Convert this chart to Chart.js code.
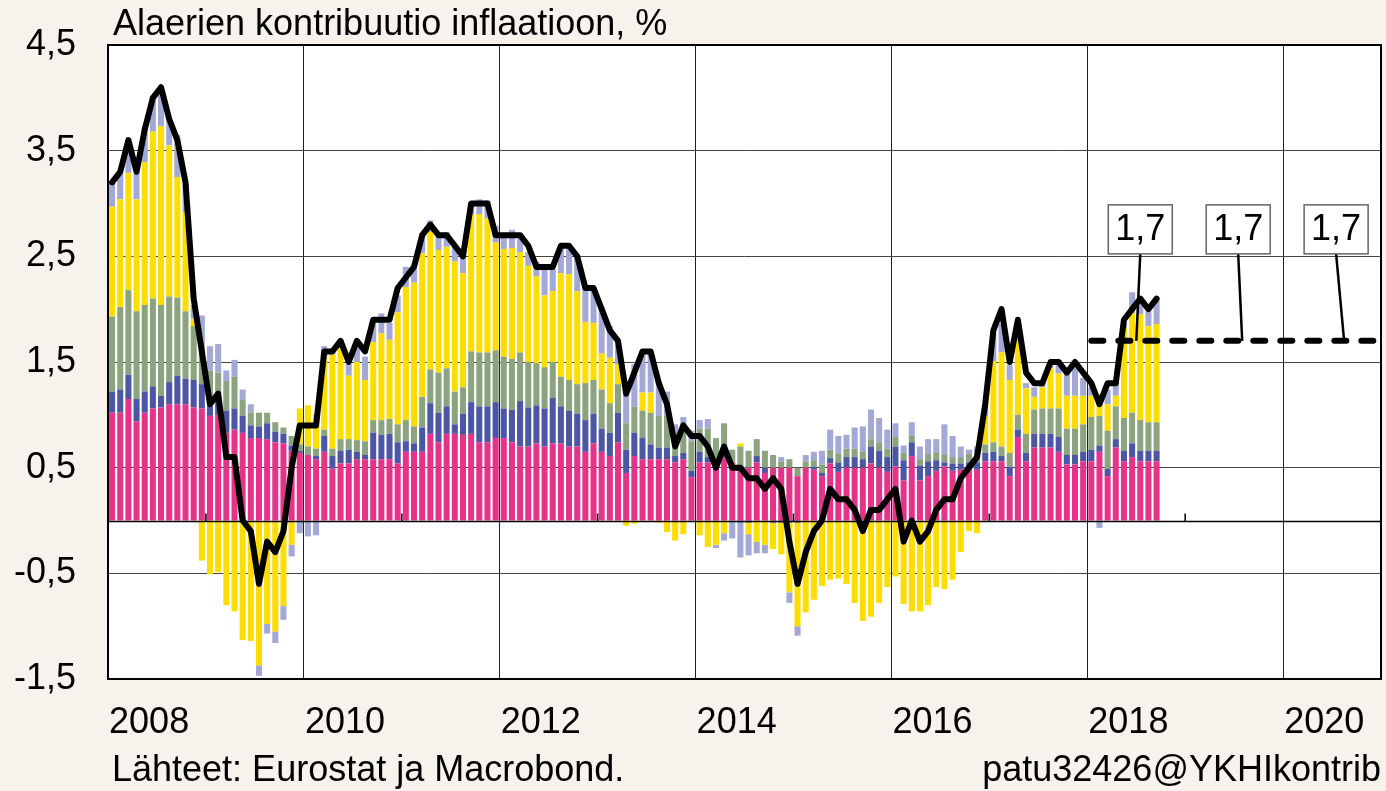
<!DOCTYPE html>
<html>
<head>
<meta charset="utf-8">
<script src="https://cdn.jsdelivr.net/npm/chart.js@4.4.0/dist/chart.umd.min.js"></script>
<style>
  html, body { margin: 0; padding: 0; background: #F7F3EC; }
  #wrap { width: 1386px; height: 791px; }
</style>
</head>
<body>
<div id="wrap"><canvas id="chart" width="1386" height="791"></canvas></div>
<script>
// === DATA (kuukausittain, tammikuu 2008 - syyskuu 2018) ===
const firstYear = 2008;
const lastYear = 2020;
const tickYears = ['2008', '2010', '2012', '2014', '2016', '2018', '2020'];

// Palvelut
const services = [
  1.02, 1.02, 1.15, 0.94, 1.02, 1.06, 1.07, 1.10, 1.10, 1.10, 1.07, 1.06,
  0.99, 1.00, 0.83, 0.86, 0.83, 0.78, 0.78, 0.77, 0.74, 0.73, 0.66, 0.64,
  0.62, 0.58, 0.65, 0.49, 0.54, 0.54, 0.58, 0.58, 0.58, 0.58, 0.58, 0.54,
  0.65, 0.65, 0.65, 0.82, 0.74, 0.82, 0.82, 0.81, 0.82, 0.74, 0.74, 0.78,
  0.78, 0.74, 0.70, 0.70, 0.73, 0.70, 0.73, 0.73, 0.70, 0.70, 0.65, 0.73,
  0.65, 0.61, 0.74, 0.45, 0.61, 0.58, 0.58, 0.58, 0.58, 0.55, 0.58, 0.41,
  0.55, 0.55, 0.55, 0.59, 0.55, 0.50, 0.50, 0.55, 0.45, 0.50, 0.50, 0.50,
  0.42, 0.50, 0.48, 0.42, 0.54, 0.46, 0.50, 0.50, 0.50, 0.54, 0.50, 0.46,
  0.51, 0.38, 0.61, 0.38, 0.42, 0.47, 0.51, 0.47, 0.48, 0.48, 0.48, 0.56,
  0.56, 0.56, 0.42, 0.79, 0.56, 0.69, 0.69, 0.69, 0.65, 0.53, 0.53, 0.56,
  0.56, 0.65, 0.42, 0.69, 0.56, 0.60, 0.56, 0.56, 0.56
];
// Teollisuustuotteet (ei energia)
const goods = [
  0.20, 0.22, 0.23, 0.21, 0.20, 0.21, 0.11, 0.21, 0.27, 0.24, 0.26, 0.23,
  0.09, 0.15, 0.21, 0.20, 0.16, 0.12, 0.11, 0.15, 0.10, 0.09, 0.05, 0.02,
  0.00, 0.03, 0.15, 0.12, 0.12, 0.13, 0.07, 0.04, 0.25, 0.23, 0.24, 0.20,
  0.10, 0.08, 0.23, 0.29, 0.28, 0.26, 0.09, 0.20, 0.30, 0.34, 0.34, 0.34,
  0.28, 0.31, 0.43, 0.37, 0.36, 0.36, 0.43, 0.35, 0.34, 0.31, 0.30, 0.28,
  0.22, 0.22, 0.28, 0.22, 0.22, 0.20, 0.14, 0.11, 0.11, 0.06, 0.06, 0.06,
  0.10, 0.05, 0.03, 0.08, 0.00, -0.02, -0.02, 0.06, 0.05, -0.02, -0.02, -0.02,
  -0.02, 0.00, 0.03, 0.03, 0.05, 0.09, 0.10, 0.10, 0.08, 0.16, 0.16, 0.14,
  0.19, 0.19, 0.13, 0.14, 0.14, 0.10, 0.04, 0.07, 0.06, 0.07, 0.07, 0.08,
  0.09, 0.05, 0.09, 0.07, 0.08, 0.13, 0.13, 0.13, 0.14, 0.09, 0.09, 0.09,
  0.11, 0.06, 0.07, 0.08, 0.10, 0.13, 0.10, 0.10, 0.10
];
// Prosessoidut elintarvikkeet
const processedFood = [
  0.71, 0.78, 0.80, 0.83, 0.82, 0.83, 0.86, 0.81, 0.74, 0.64, 0.51, 0.35,
  0.34, 0.25, 0.28, 0.30, 0.15, 0.12, 0.13, 0.10, 0.09, 0.06, 0.09, 0.06,
  0.08, 0.07, 0.06, 0.07, 0.11, 0.10, 0.11, 0.13, 0.12, 0.14, 0.14, 0.17,
  0.20, 0.16, 0.29, 0.32, 0.38, 0.36, 0.31, 0.25, 0.48, 0.51, 0.51, 0.49,
  0.49, 0.48, 0.46, 0.43, 0.40, 0.39, 0.34, 0.28, 0.29, 0.28, 0.35, 0.32,
  0.37, 0.28, 0.27, 0.25, 0.25, 0.26, 0.30, 0.30, 0.30, 0.22, 0.26, 0.28,
  0.22, 0.27, 0.20, 0.25, 0.12, 0.20, 0.16, 0.16, 0.16, 0.12, 0.06, 0.08,
  0.08, 0.06, 0.06, 0.08, 0.08, 0.08, 0.08, 0.08, 0.07, 0.07, 0.08, 0.08,
  0.09, 0.07, 0.06, 0.06, 0.07, 0.07, 0.07, 0.06, 0.06, 0.08, 0.08, 0.08,
  0.09, 0.09, 0.13, 0.14, 0.18, 0.23, 0.24, 0.24, 0.27, 0.25, 0.25, 0.26,
  0.31, 0.28, 0.36, 0.31, 0.31, 0.29, 0.29, 0.27, 0.27
];
// Energia
const energy = [
  1.04, 1.02, 1.11, 1.06, 1.35, 1.58, 1.69, 1.43, 1.14, 0.94, 0.07, -0.38,
  -0.51, -0.49, -0.80, -0.86, -1.13, -1.14, -1.37, -0.98, -1.05, -0.81, -0.23, 0.34,
  0.39, 0.33, 0.70, 0.89, 0.88, 0.60, 0.74, 0.58, 0.74, 0.82, 0.75, 1.06,
  1.26, 1.36, 1.36, 1.30, 1.16, 1.15, 1.23, 1.08, 1.30, 1.31, 1.27, 1.02,
  1.02, 1.05, 0.95, 0.91, 0.82, 0.68, 0.67, 0.98, 1.00, 0.88, 0.58, 0.54,
  0.34, 0.43, 0.19, -0.05, -0.03, 0.17, 0.19, -0.02, -0.11, -0.19, -0.13, 0.00,
  -0.14, -0.25, -0.23, -0.12, 0.00, 0.03, -0.11, -0.20, -0.23, -0.25, -0.30, -0.66,
  -0.98, -0.87, -0.75, -0.62, -0.56, -0.55, -0.60, -0.78, -0.95, -0.91, -0.78, -0.63,
  -0.53, -0.79, -0.86, -0.86, -0.80, -0.63, -0.65, -0.56, -0.30, -0.10, -0.12, 0.27,
  0.77, 0.89, 0.69, 0.72, 0.43, 0.12, 0.20, 0.38, 0.33, 0.31, 0.31, 0.27,
  0.20, 0.20, 0.25, 0.10, 0.85, 0.94, 1.00, 0.91, 0.93
];
// Prosessoimattomat elintarvikkeet
const freshFood = [
  0.23, 0.25, 0.28, 0.26, 0.33, 0.34, 0.31, 0.25, 0.40, 0.27, 0.13, 0.30,
  0.23, 0.27, 0.10, 0.16, 0.10, 0.08, -0.10, -0.09, -0.11, -0.13, -0.11, -0.12,
  -0.15, -0.14, 0.09, 0.06, 0.05, 0.11, 0.13, 0.22, 0.21, 0.19, 0.16, 0.16,
  0.19, 0.13, 0.19, 0.11, 0.16, 0.14, 0.16, 0.16, 0.08, 0.14, 0.17, 0.16,
  0.13, 0.17, 0.13, 0.13, 0.14, 0.25, 0.21, 0.24, 0.25, 0.33, 0.34, 0.34,
  0.44, 0.30, 0.22, 0.28, 0.40, 0.38, 0.39, 0.33, 0.23, 0.08, 0.08, 0.10,
  0.08, 0.09, -0.03, -0.07, -0.17, -0.33, -0.20, -0.11, -0.08, 0.00, 0.04, -0.10,
  -0.09, 0.06, 0.08, 0.13, 0.19, 0.17, 0.13, 0.20, 0.24, 0.28, 0.23, 0.18,
  0.13, 0.07, 0.13, 0.12, 0.14, 0.13, 0.29, 0.20, 0.10, 0.04, 0.07, 0.10,
  0.25, 0.27, 0.14, 0.15, 0.05, 0.09, 0.04, 0.03, 0.13, 0.24, 0.30, 0.17,
  0.08, -0.07, 0.14, 0.14, 0.05, 0.20, 0.13, 0.14, 0.25
];
// YKHI-inflaatio
const hicp = [
  3.2, 3.3, 3.6, 3.3, 3.7, 4.0, 4.1, 3.8, 3.6, 3.2, 2.1, 1.6,
  1.1, 1.2, 0.6, 0.6, 0.0, -0.1, -0.6, -0.2, -0.3, -0.1, 0.5, 0.9,
  0.9, 0.9, 1.6, 1.6, 1.7, 1.5, 1.7, 1.6, 1.9, 1.9, 1.9, 2.2,
  2.3, 2.4, 2.7, 2.8, 2.7, 2.7, 2.6, 2.5, 3.0, 3.0, 3.0, 2.7,
  2.7, 2.7, 2.7, 2.6, 2.4, 2.4, 2.4, 2.6, 2.6, 2.5, 2.2, 2.2,
  2.0, 1.8, 1.7, 1.2, 1.4, 1.6, 1.6, 1.3, 1.1, 0.7, 0.9, 0.8,
  0.8, 0.7, 0.5, 0.7, 0.5, 0.5, 0.4, 0.4, 0.3, 0.4, 0.3, -0.2,
  -0.6, -0.3, -0.1, 0.0, 0.3, 0.2, 0.2, 0.1, -0.1, 0.1, 0.1, 0.2,
  0.3, -0.2, 0.0, -0.2, -0.1, 0.1, 0.2, 0.2, 0.4, 0.5, 0.6, 1.1,
  1.8, 2.0, 1.5, 1.9, 1.4, 1.3, 1.3, 1.5, 1.5, 1.4, 1.5, 1.4,
  1.3, 1.1, 1.3, 1.3, 1.9, 2.0, 2.1, 2.0, 2.1
];
// Ennuste vuosittain
const forecastYears = [2018, 2019, 2020];
const forecastValues = [1.7, 1.7, 1.7];

const titleText = 'Alaerien kontribuutio inflaatioon, %';
const sourceText = 'Lähteet: Eurostat ja Macrobond.';
const tagText = 'patu32426@YKHIkontrib';

// === APUTAULUKOT ===
const monthLabels = [];
const monthYear = [];
for (let y = firstYear; y <= lastYear; y++) {
  for (let m = 1; m <= 12; m++) {
    monthLabels.push(y + '-' + String(m).padStart(2, '0'));
    monthYear.push(y);
  }
}
// ennuste kuukausille (sama arvo koko vuoden)
const forecastMonthly = monthYear.map(y => {
  const k = forecastYears.indexOf(y);
  return k >= 0 ? forecastValues[k] : null;
});

const FONT = "'Liberation Sans', Arial, Helvetica, sans-serif";
const FS = 36;
const paper = '#F7F3EC';

const barStyle = {
  stack: 'osat',
  order: 2,
  borderWidth: 0,
  categoryPercentage: 1.0,
  barPercentage: 0.74
};

// === PIIRTO-PLUGIN: tausta, nollaviiva, kehys, otsikot ===
const decor = {
  id: 'decor',
  beforeDraw(chart) {
    const { ctx, chartArea: a } = chart;
    ctx.save();
    ctx.fillStyle = paper;
    ctx.fillRect(0, 0, chart.width, chart.height);
    ctx.fillStyle = '#ffffff';
    ctx.fillRect(a.left, a.top, a.right - a.left, a.bottom - a.top);
    ctx.restore();
  },
  afterDatasetsDraw(chart) {
    const { ctx, chartArea: a, scales } = chart;
    const y0 = Math.round(scales.y.getPixelForValue(0)) + 0.5;
    const cat = (a.right - a.left) / monthLabels.length;
    ctx.save();
    ctx.strokeStyle = '#000';
    ctx.lineWidth = 1.5;
    ctx.beginPath();
    ctx.moveTo(a.left, y0);
    ctx.lineTo(a.right, y0);
    // pienet merkit parittomien vuosien kohdalle
    for (let y = firstYear + 1; y < lastYear; y += 2) {
      const x = scales.x.getPixelForValue((y - firstYear) * 12) - cat / 2;
      ctx.moveTo(x, y0);
      ctx.lineTo(x, y0 - 8);
    }
    ctx.stroke();
    ctx.restore();
  },
  afterDraw(chart) {
    const { ctx, chartArea: a, scales } = chart;
    ctx.save();

    // kehys
    ctx.strokeStyle = '#000';
    ctx.lineWidth = 2;
    ctx.strokeRect(a.left, a.top, a.right - a.left, a.bottom - a.top);

    // ennustelaatikot
    const shifts = [-4, 4, 8];
    forecastYears.forEach((yr, k) => {
      const cx = scales.x.getPixelForValue((yr - firstYear) * 12 + 6);
      const yLine = scales.y.getPixelForValue(forecastValues[k]);
      const w = 64, h = 49;
      const top = yLine - 136;
      ctx.strokeStyle = '#000';
      ctx.lineWidth = 2.5;
      ctx.beginPath();
      ctx.moveTo(cx, top + h);
      ctx.lineTo(cx + shifts[k], yLine);
      ctx.stroke();
      ctx.fillStyle = '#fff';
      ctx.fillRect(cx - w / 2, top, w, h);
      ctx.strokeStyle = '#666';
      ctx.lineWidth = 1.5;
      ctx.strokeRect(cx - w / 2, top, w, h);
      ctx.fillStyle = '#000';
      ctx.font = FS + 'px ' + FONT;
      ctx.textAlign = 'center';
      ctx.textBaseline = 'middle';
      ctx.fillText(forecastValues[k].toFixed(1).replace('.', ','), cx, top + h / 2 + 1);
    });

    // otsikko ja lähteet
    ctx.fillStyle = '#000';
    ctx.font = FS + 'px ' + FONT;
    ctx.textBaseline = 'alphabetic';
    ctx.textAlign = 'left';
    ctx.fillText(titleText, 113, 35);
    ctx.fillText(sourceText, 112, 781);
    ctx.textAlign = 'right';
    ctx.fillText(tagText, 1381, 781);
    ctx.restore();
  }
};

// === GRAAFI ===
new Chart(document.getElementById('chart'), {
  type: 'bar',
  data: {
    labels: monthLabels,
    datasets: [
      { label: 'Palvelut', data: services, backgroundColor: '#E6338A', ...barStyle },
      { label: 'Teollisuustuotteet', data: goods, backgroundColor: '#4B56A4', ...barStyle },
      { label: 'Prosessoidut elintarvikkeet', data: processedFood, backgroundColor: '#8BA47F', ...barStyle },
      { label: 'Energia', data: energy, backgroundColor: '#FFDD00', ...barStyle },
      { label: 'Prosessoimattomat elintarvikkeet', data: freshFood, backgroundColor: '#A3A8D6', ...barStyle },
      {
        type: 'line', label: 'YKHI', data: hicp, stack: 'ykhi', order: 1,
        borderColor: '#000', borderWidth: 6, borderJoinStyle: 'round', borderCapStyle: 'round',
        pointRadius: 0, tension: 0, fill: false
      },
      {
        type: 'line', label: 'Ennuste', data: forecastMonthly, stack: 'ennuste', order: 1,
        borderColor: '#000', borderWidth: 6, borderDash: [12, 15], borderCapStyle: 'round',
        pointRadius: 0, tension: 0, fill: false
      }
    ]
  },
  options: {
    responsive: false,
    animation: false,
    devicePixelRatio: 1,
    layout: { padding: { top: 45, right: 5, bottom: 0, left: 0 } },
    plugins: {
      legend: { display: false },
      tooltip: { enabled: false },
      title: { display: false }
    },
    scales: {
      x: {
        stacked: true,
        offset: true,
        border: { display: false },
        grid: {
          offset: true,
          drawTicks: true,
          tickLength: 22,
          tickColor: 'rgba(0,0,0,0)',
          lineWidth: 1,
          color: c => (c.index % 24 === 0 ? '#222' : 'rgba(0,0,0,0)')
        },
        ticks: {
          autoSkip: false,
          maxRotation: 0,
          minRotation: 0,
          align: 'start',
          labelOffset: -3,
          padding: 0,
          color: '#000',
          font: { family: FONT, size: FS },
          callback: (v, i) => (i % 24 === 0 ? tickYears[i / 24] : '')
        },
        afterFit: s => { s.height = 112; }
      },
      y: {
        stacked: true,
        min: -1.5,
        max: 4.5,
        border: { display: false },
        grid: {
          color: '#444',
          lineWidth: 1,
          drawTicks: true,
          tickLength: 32,
          tickColor: 'rgba(0,0,0,0)'
        },
        ticks: {
          stepSize: 1,
          padding: 0,
          color: '#000',
          font: { family: FONT, size: FS },
          callback: v => v.toFixed(1).replace('.', ',')
        },
        afterFit: s => { s.width = 108; }
      }
    }
  },
  plugins: [decor]
});
</script>
</body>
</html>
